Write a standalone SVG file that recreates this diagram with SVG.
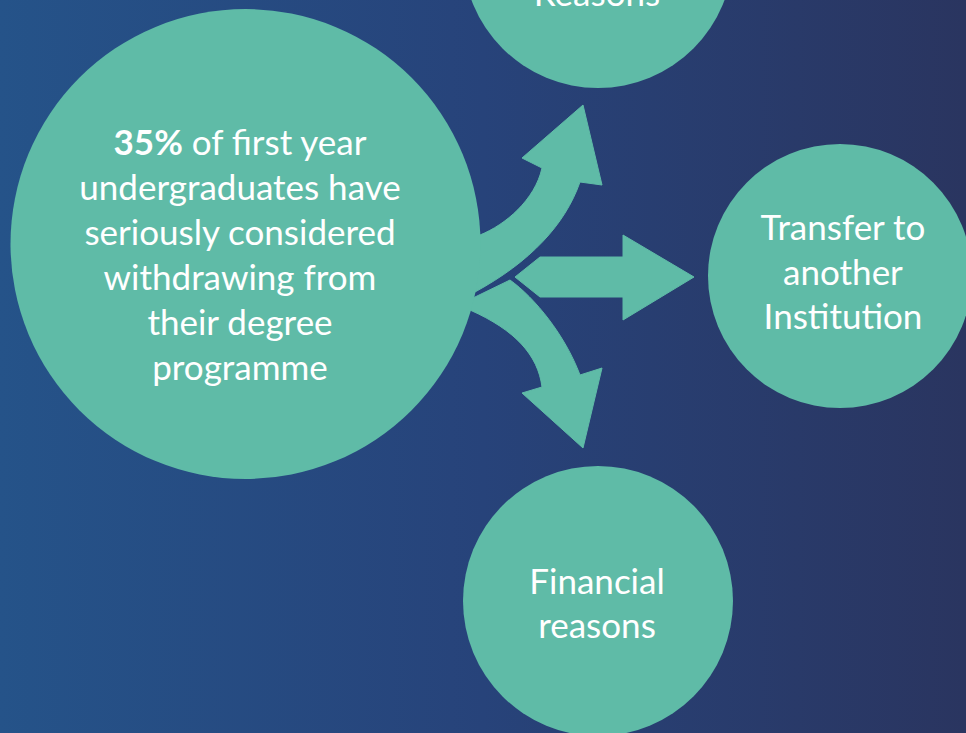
<svg xmlns="http://www.w3.org/2000/svg" width="966" height="733" viewBox="0 0 966 733">
  <defs>
    <linearGradient id="bg" x1="0" y1="0" x2="1" y2="0">
      <stop offset="0" stop-color="#255389"/>
      <stop offset="0.5" stop-color="#27437a"/>
      <stop offset="1" stop-color="#2a3560"/>
    </linearGradient>
  </defs>
  <style>
    .node { fill: #5fbba7; }
    .arrow { fill: #5fbba7; stroke: #5fbba7; stroke-width: 1; stroke-linejoin: round; }
    .label { fill: #ffffff; font-family: Lato, "Open Sans", "Liberation Sans", sans-serif; font-size: 35px; text-anchor: middle; }
    .bold { font-weight: bold; }
  </style>
  <rect x="0" y="0" width="966" height="733" fill="url(#bg)"/>

  <g id="connectors">
    <path class="arrow" d="M470,238 L480,235 C505,225 535,200 542,168 L522,158 L583,105 L602,185 L580,182 C565,225 530,262 475,292 L468,294 Z"/>
    <path class="arrow" d="M468,300 L475,297 L510,280 C535,298 565,335 580,375 L602,368 L583,448 L522,393 L542,387 C538,355 515,330 470,310 Z"/>
    <path class="arrow" d="M515,277 L540,257 L623,257 L623,235 L694,277 L623,320 L623,297 L540,297 Z"/>
  </g>

  <g id="node-main">
    <circle class="node" cx="245.5" cy="244" r="235"/>
    <text class="label" x="240" y="155"><tspan class="bold">35%</tspan> of first year</text>
    <text class="label" x="240" y="200">undergraduates have</text>
    <text class="label" x="240" y="245">seriously considered</text>
    <text class="label" x="240" y="290">withdrawing from</text>
    <text class="label" x="240" y="335">their degree</text>
    <text class="label" x="240" y="380">programme</text>
  </g>

  <g id="node-top">
    <circle class="node" cx="598" cy="-47" r="135"/>
    <text class="label" x="597" y="6">Reasons</text>
  </g>

  <g id="node-right">
    <circle class="node" cx="840" cy="276" r="132"/>
    <text class="label" x="843" y="240">Transfer to</text>
    <text class="label" x="843" y="285">another</text>
    <text class="label" x="843" y="329">Institution</text>
  </g>

  <g id="node-bottom">
    <circle class="node" cx="598" cy="601" r="135"/>
    <text class="label" x="597" y="594">Financial</text>
    <text class="label" x="597" y="638">reasons</text>
  </g>
</svg>
